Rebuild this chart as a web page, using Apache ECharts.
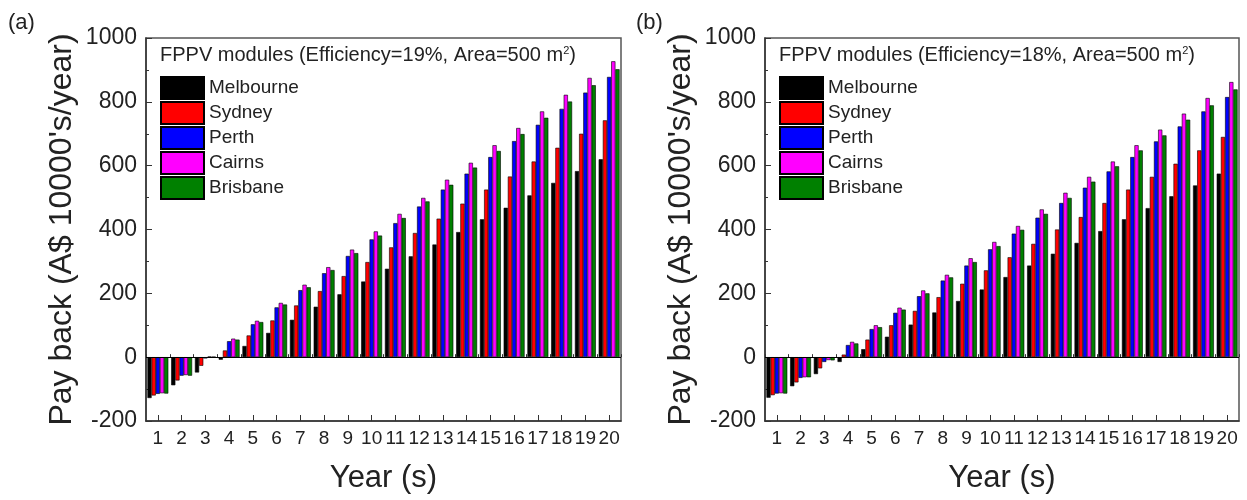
<!DOCTYPE html>
<html>
<head>
<meta charset="utf-8">
<script src="https://cdn.jsdelivr.net/npm/echarts@6/dist/echarts.min.js"></script>
<style>
html,body{margin:0;padding:0;background:#fff;}
#chart{width:1247px;height:500px;}
</style>
</head>
<body>
<div id="chart"></div>
<script>
// ---- data ----
var years = ['1','2','3','4','5','6','7','8','9','10','11','12','13','14','15','16','17','18','19','20'];
var cities = ['Melbourne','Sydney','Perth','Cairns','Brisbane'];
var colors = ['#000000','#ff0000','#0000ff','#ff00ff','#008000'];
var yTicks = [-200, 0, 200, 400, 600, 800, 1000];

// Panel (a): Efficiency 19%
var melA = [-128,-88,-48,-8,35,76,117,158,197,237,277,316,353,392,432,468,507,546,583,620];
var sydA = [-120,-73,-27,21,68,115,162,207,254,298,344,389,434,481,525,566,613,656,700,742];
var perA = [-115,-58,-4,50,103,156,210,263,317,369,420,472,525,575,627,677,728,778,829,878];
var caiA = [-113,-56,2,58,114,170,227,282,337,394,449,499,556,609,664,718,770,822,875,927];
var briA = [-114,-58,1,55,110,165,219,273,326,381,436,488,540,594,646,699,750,801,852,902];

// Panel (b): Efficiency 18%
var melB = [-127,-91,-53,-15,25,64,102,140,176,212,251,287,324,358,395,432,467,504,538,575];
var sydB = [-119,-79,-35,8,55,100,145,188,230,272,313,355,400,439,483,525,565,606,648,690];
var perB = [-114,-65,-15,38,88,139,191,240,287,338,387,437,483,531,582,627,676,723,770,815];
var caiB = [-113,-63,-9,48,100,155,209,258,310,361,411,463,515,565,613,664,713,763,812,862];
var briB = [-114,-63,-10,43,94,149,200,250,298,348,399,449,499,550,598,648,695,744,789,839];

var titleA = 'FPPV modules (Efficiency=19%, Area=500 m';
var titleB = 'FPPV modules (Efficiency=18%, Area=500 m';
var yTitle = "Pay back (A$ 10000's/year)";
var xTitle = 'Year (s)';

var FONT = "'Liberation Sans', Arial, sans-serif";
var TXT = '#222';

var chart = echarts.init(document.getElementById('chart'), null, {renderer: 'canvas'});

function mkX(gi) {
  return [{
    type: 'category', gridIndex: gi, data: years, position: 'bottom',
    axisLine: {show: true, onZero: false, lineStyle: {color: '#333', width: 1.5}},
    axisTick: {show: true, inside: true, alignWithLabel: true, length: 6, lineStyle: {color: '#333'}},
    axisLabel: {interval: 0, fontSize: 19, fontFamily: FONT, color: TXT, margin: 8},
    name: xTitle, nameLocation: 'middle', nameGap: 42,
    nameTextStyle: {fontSize: 31, fontFamily: FONT, color: TXT}
  }, {
    type: 'category', gridIndex: gi, data: years, position: 'bottom',
    axisLine: {show: false},
    axisTick: {show: true, inside: true, alignWithLabel: false, length: 3, lineStyle: {color: '#333'}},
    axisLabel: {show: false}, splitLine: {show: false}
  }];
}
function mkY(gi) {
  return {
    type: 'value', gridIndex: gi, min: yTicks[0], max: yTicks[yTicks.length - 1], interval: 200,
    axisLine: {show: true, onZero: false, lineStyle: {color: '#333', width: 1.5}},
    axisTick: {show: true, inside: true, length: 6, lineStyle: {color: '#333'}},
    minorTick: {show: true, splitNumber: 2, length: 3, lineStyle: {color: '#333'}},
    splitLine: {show: false},
    axisLabel: {fontSize: 23, fontFamily: FONT, color: TXT, margin: 9,
      formatter: function (v) { return String(v); }},
    name: yTitle, nameLocation: 'middle', nameGap: 68,
    nameTextStyle: {fontSize: 32, fontFamily: FONT, color: TXT}
  };
}

var dataA = [melA, sydA, perA, caiA, briA];
var dataB = [melB, sydB, perB, caiB, briB];
var series = [];
[dataA, dataB].forEach(function (set, gi) {
  set.forEach(function (arr, i) {
    var s = {
      type: 'bar', name: cities[i], data: arr,
      xAxisIndex: gi * 2, yAxisIndex: gi,
      barGap: '0%', barCategoryGap: '12%',
      itemStyle: {color: colors[i], borderColor: '#000', borderWidth: 0.6},
      emphasis: {disabled: true}
    };
    if (i === 0) {
      s.markLine = {
        silent: true, symbol: 'none', label: {show: false},
        lineStyle: {color: '#000', width: 1, type: 'solid'},
        data: [{yAxis: 0}]
      };
    }
    series.push(s);
  });
});

function legendAt(left) {
  return {
    orient: 'vertical', left: left, top: 76, icon: 'rect', padding: 0,
    itemWidth: 43, itemHeight: 22, itemGap: 1,
    selectedMode: false,
    data: cities,
    textStyle: {fontSize: 19, fontFamily: FONT, color: TXT}
  };
}

function legendTitle(left, txt) {
  return {
    type: 'text', left: left, top: 45,
    style: {
      text: '{n|' + txt + '}{s|2}{n|)}',
      rich: {
        n: {fontSize: 20, fontFamily: FONT, fill: TXT, verticalAlign: 'bottom'},
        s: {fontSize: 11, fontFamily: FONT, fill: TXT, verticalAlign: 'top', padding: [0, 0, 9, 0]}
      }
    }
  };
}

var option = {
  backgroundColor: '#fff',
  animation: false,
  grid: [
    {left: 146, right: 626, top: 38, bottom: 79, show: true, borderColor: '#555', borderWidth: 1.5, containLabel: false},
    {left: 765, right: 8, top: 38, bottom: 79, show: true, borderColor: '#555', borderWidth: 1.5, containLabel: false}
  ],
  xAxis: mkX(0).concat(mkX(1)),
  yAxis: [mkY(0), mkY(1)],
  legend: [legendAt(160), legendAt(779)],
  series: series,
  graphic: [
    {type: 'text', left: 8, top: 12, style: {text: '(a)', fontSize: 22, fontFamily: FONT, fill: TXT}},
    {type: 'text', left: 636, top: 12, style: {text: '(b)', fontSize: 22, fontFamily: FONT, fill: TXT}},
    legendTitle(160, titleA),
    legendTitle(779, titleB)
  ]
};
chart.setOption(option);
</script>
</body>
</html>
